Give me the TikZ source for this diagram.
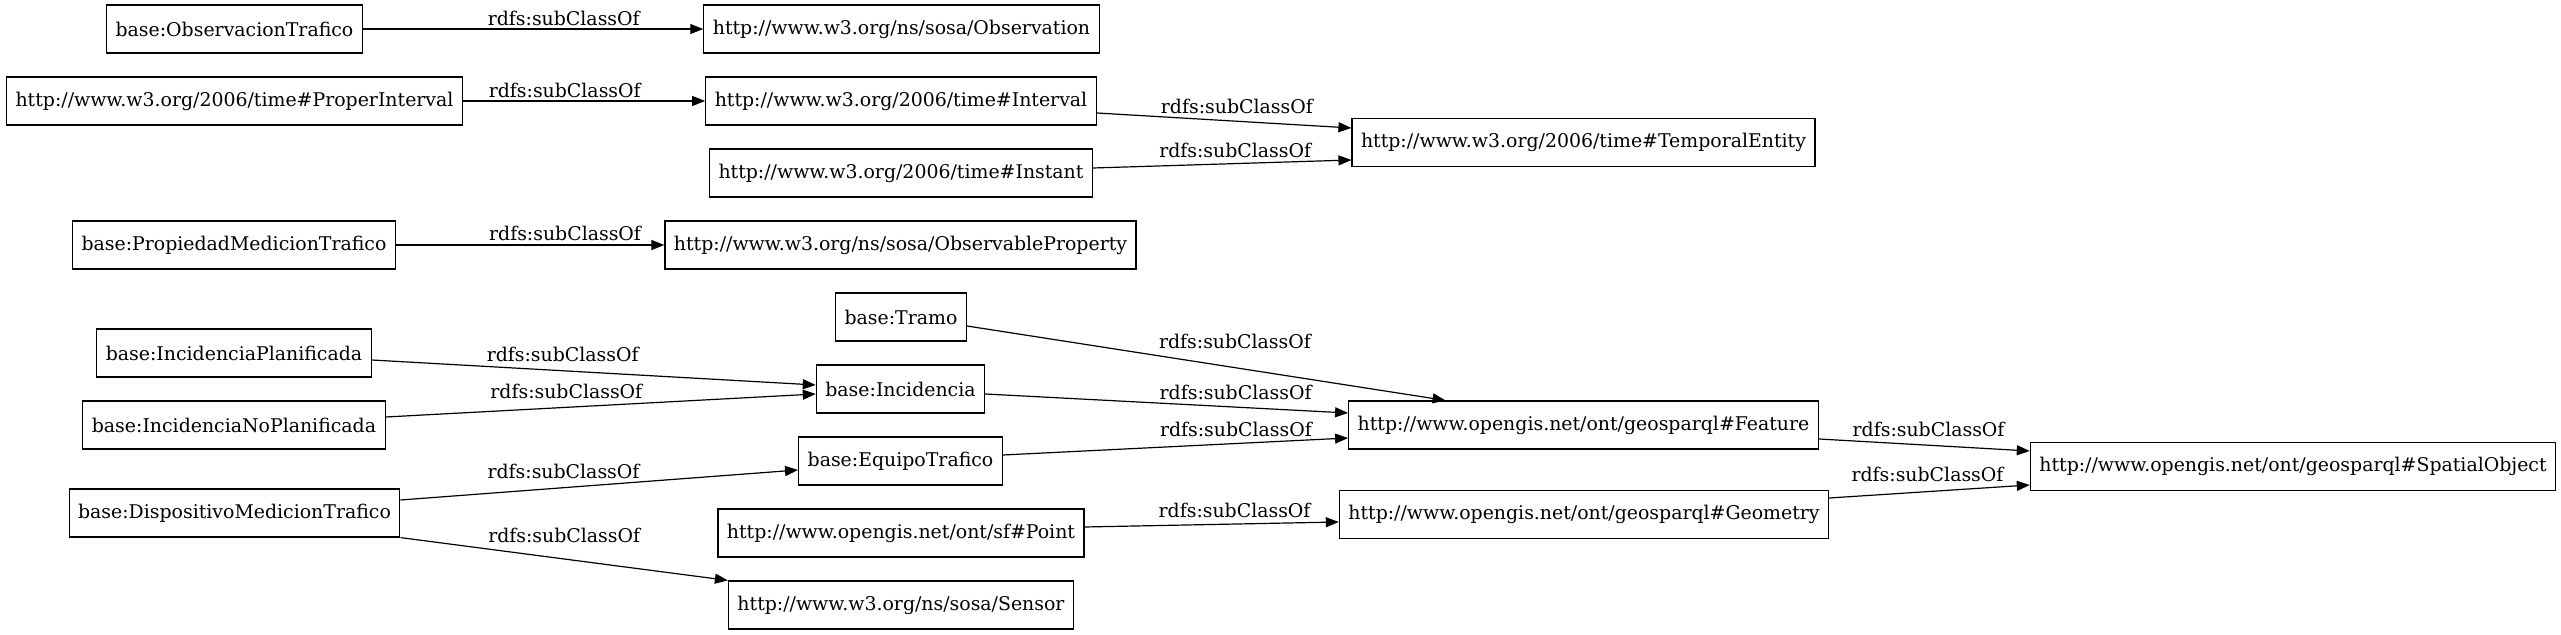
\documentclass[tikz,border=0pt]{standalone}
\usepackage{fontspec}
\setmainfont{DejaVu Serif}
\usepackage{xcolor}
\usetikzlibrary{arrows,arrows.meta}
\tikzset{>={Triangle[length=6.5pt,width=5pt]}}
\tikzset{
    cls/.style={draw, line width=0.6pt, minimum height=24pt, inner xsep=4.5pt, inner ysep=0pt},
    lbl/.style={inner sep=0pt}
}

\begin{document}
\begin{tikzpicture}[x=0.5pt, y=-0.5pt, font=\fontsize{9.45}{11}\selectfont]
    \useasboundingbox (0,0) rectangle (2561,635);
    \begin{scope}[line width=0.6pt]
        % first column
        \node[cls] (obstrafico) at (234.5, 29) {base:ObservacionTrafico};
        \node[cls] (properint) at (234.5, 101) {http://www.w3.org/2006/time\#ProperInterval};
        \node[cls] (propmedicion) at (234, 245) {base:PropiedadMedicionTrafico};
        \node[cls] (incplan) at (234, 353) {base:IncidenciaPlanificada};
        \node[cls] (incnoplan) at (234, 425) {base:IncidenciaNoPlanificada};
        \node[cls] (dispositivo) at (234.5, 513) {base:DispositivoMedicionTrafico};

        % second column
        \node[cls] (observation) at (901.5, 29) {http://www.w3.org/ns/sosa/Observation};
        \node[cls] (interval) at (901, 101) {http://www.w3.org/2006/time\#Interval};
        \node[cls] (instant) at (901, 173) {http://www.w3.org/2006/time\#Instant};
        \node[cls] (obsproperty) at (900.5, 245) {http://www.w3.org/ns/sosa/ObservableProperty};
        \node[cls] (tramo) at (901, 317) {base:Tramo};
        \node[cls] (incidencia) at (900.5, 389) {base:Incidencia};
        \node[cls] (equipo) at (900.5, 461) {base:EquipoTrafico};
        \node[cls] (point) at (901, 533) {http://www.opengis.net/ont/sf\#Point};
        \node[cls] (sensor) at (901, 605) {http://www.w3.org/ns/sosa/Sensor};

        % third and fourth column
        \node[cls] (temporal) at (1583.5, 142.5) {http://www.w3.org/2006/time\#TemporalEntity};
        \node[cls] (feature) at (1583.5, 425) {http://www.opengis.net/ont/geosparql\#Feature};
        \node[cls] (geometry) at (1584, 514.5) {http://www.opengis.net/ont/geosparql\#Geometry};
        \node[cls] (spatial) at (2293, 466.5) {http://www.opengis.net/ont/geosparql\#SpatialObject};

        \draw[->] (obstrafico) -- node[lbl, pos=0.59, yshift=5.5pt] {rdfs:subClassOf} (observation);
        \draw[->] (properint) -- node[lbl, pos=0.42, yshift=5.5pt] {rdfs:subClassOf} (interval);
        \draw[->] (propmedicion) -- node[lbl, pos=0.63, yshift=6pt] {rdfs:subClassOf} (obsproperty);
        \draw[->] ([yshift=-6pt]interval.east) -- node[lbl, pos=0.55, yshift=7.6pt] {rdfs:subClassOf} ([yshift=7.25pt]temporal.west);
        \draw[->] ([yshift=2.5pt]instant.east) -- node[lbl, pos=0.55, yshift=6.8pt] {rdfs:subClassOf} ([yshift=-8.75pt]temporal.west);
        \draw[->] ([yshift=-3.5pt]incplan.east) -- node[lbl, pos=0.43, yshift=7.9pt] {rdfs:subClassOf} ([yshift=2pt]incidencia.west);
        \draw[->] ([yshift=4pt]incnoplan.east) -- node[lbl, pos=0.42, yshift=7.75pt] {rdfs:subClassOf} ([yshift=-2.5pt]incidencia.west);
        \draw[->] ([yshift=6.5pt]dispositivo.east) -- node[lbl, pos=0.41, yshift=8.35pt] {rdfs:subClassOf} ([yshift=-4.5pt]equipo.west);
        \draw[->] (dispositivo.south east) -- node[lbl, pos=0.5, yshift=11.7pt] {rdfs:subClassOf} (sensor.north west);
        \draw[->] ([yshift=-4.5pt]tramo.east) -- node[lbl, pos=0.56, yshift=13pt] {rdfs:subClassOf} ([xshift=-69pt]feature.north);
        \draw[->] ([yshift=-2.5pt]incidencia.east) -- node[lbl, pos=0.69, yshift=7.5pt] {rdfs:subClassOf} ([yshift=6pt]feature.west);
        \draw[->] ([yshift=3pt]equipo.east) -- node[lbl, pos=0.675, yshift=7.25pt] {rdfs:subClassOf} ([yshift=-6.5pt]feature.west);
        \draw[->] ([yshift=3pt]point.east) -- node[lbl, pos=0.59, yshift=7pt] {rdfs:subClassOf} ([yshift=-3.75pt]geometry.west);
        \draw[->] ([yshift=-7pt]feature.east) -- node[lbl, pos=0.52, yshift=8.1pt] {rdfs:subClassOf} ([yshift=7.75pt]spatial.west);
        \draw[->] ([yshift=8.25pt]geometry.east) -- node[lbl, pos=0.49, yshift=8.8pt] {rdfs:subClassOf} ([yshift=-9.25pt]spatial.west);
    \end{scope}
\end{tikzpicture}
\end{document}
